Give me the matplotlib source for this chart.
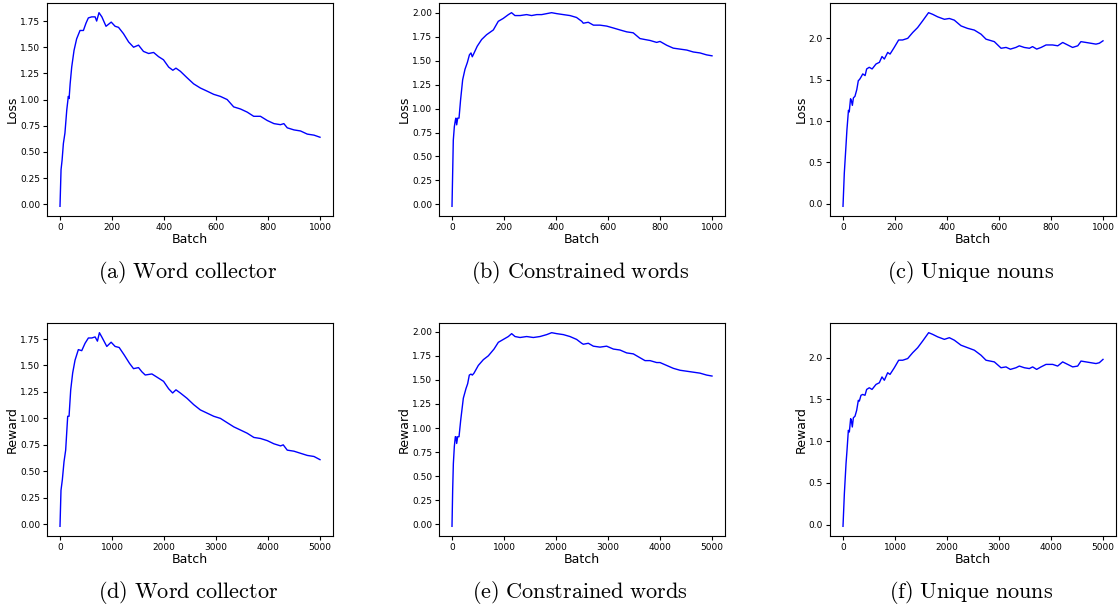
import numpy as np
import matplotlib.pyplot as plt

plt.rcParams['mathtext.fontset'] = 'cm'

# (a) Word collector - loss
a_x = [0, 4, 8, 13, 19, 26, 32, 35, 39, 45, 54, 64, 77, 90, 100, 109, 122, 135, 141, 150,
       161, 177, 197, 212, 225, 244, 264, 283, 302, 321, 341, 360, 379, 398, 418, 434, 446, 463,
       488, 514, 540, 566, 591, 617, 643, 668, 694, 720, 745, 771, 797, 823, 848, 861, 874, 900,
       925, 951, 977, 1000]
a_y = [-0.02, 0.33, 0.42, 0.58, 0.68, 0.90, 1.03, 1.01, 1.15, 1.31, 1.47, 1.58, 1.66, 1.66, 1.73,
       1.78, 1.79, 1.79, 1.75, 1.83, 1.79, 1.70, 1.74, 1.70, 1.69, 1.63, 1.55, 1.50, 1.52, 1.46,
       1.44, 1.45, 1.41, 1.38, 1.31, 1.28, 1.30, 1.27, 1.21, 1.15, 1.11, 1.08, 1.05, 1.03, 1.00,
       0.93, 0.91, 0.88, 0.84, 0.84, 0.80, 0.77, 0.76, 0.77, 0.73, 0.71, 0.70, 0.67, 0.66, 0.64]

# (b) Constrained words - loss
b_x = [0, 3, 5, 9, 13, 15, 18, 22, 27, 33, 41, 50, 59, 67, 73, 78, 85, 97, 114, 133, 159, 178,
       197, 217, 229, 242, 262, 287, 306, 326, 345, 364, 383, 403, 428, 454, 479, 499, 505, 524,
       544, 569, 595, 621, 646, 672, 697, 723, 742, 762, 787, 800, 826, 851, 877, 903, 928, 954,
       979, 1000]
b_y = [-0.02, 0.39, 0.67, 0.81, 0.88, 0.90, 0.83, 0.90, 0.90, 1.09, 1.30, 1.41, 1.48, 1.56, 1.58,
       1.54, 1.58, 1.65, 1.72, 1.77, 1.82, 1.91, 1.94, 1.98, 2.00, 1.97, 1.97, 1.98, 1.97, 1.98,
       1.98, 1.99, 2.00, 1.99, 1.98, 1.97, 1.95, 1.91, 1.89, 1.90, 1.87, 1.87, 1.86, 1.84, 1.82,
       1.80, 1.79, 1.73, 1.72, 1.71, 1.69, 1.70, 1.66, 1.63, 1.62, 1.61, 1.59, 1.58, 1.56, 1.55]

# (c) Unique nouns - loss
c_x = [0, 5, 12, 15, 21, 24, 29, 32, 36, 40, 46, 53, 59, 63, 69, 76, 85, 91, 101, 112, 127, 140,
       150, 159, 172, 181, 197, 214, 229, 249, 268, 287, 306, 329, 345, 364, 390, 409, 428, 454,
       479, 505, 531, 550, 582, 608, 627, 644, 665, 678, 697, 717, 729, 745, 762, 781, 806, 826,
       845, 864, 883, 903, 915, 935, 954, 973, 986, 1000]
c_y = [-0.03, 0.37, 0.73, 0.89, 1.13, 1.11, 1.27, 1.25, 1.19, 1.28, 1.30, 1.38, 1.49, 1.50, 1.53,
       1.57, 1.55, 1.63, 1.65, 1.63, 1.69, 1.71, 1.78, 1.75, 1.83, 1.81, 1.89, 1.98, 1.98, 2.00,
       2.07, 2.13, 2.21, 2.31, 2.29, 2.26, 2.23, 2.24, 2.22, 2.15, 2.12, 2.10, 2.05, 1.99, 1.96,
       1.88, 1.89, 1.87, 1.89, 1.91, 1.89, 1.88, 1.90, 1.87, 1.89, 1.92, 1.92, 1.91, 1.95, 1.92,
       1.89, 1.91, 1.96, 1.95, 1.94, 1.93, 1.94, 1.97]

# (d) Word collector - reward
d_x = [0, 19, 45, 77, 109, 148, 174, 206, 244, 289, 353, 418, 482, 546, 611, 675, 720, 758, 803,
       900, 983, 1060, 1138, 1234, 1337, 1414, 1510, 1575, 1639, 1767, 1864, 1992, 2089, 2166,
       2230, 2314, 2442, 2571, 2699, 2828, 2956, 3085, 3213, 3342, 3471, 3599, 3728, 3856, 3985,
       4113, 4242, 4293, 4370, 4499, 4627, 4756, 4884, 5000]
d_y = [-0.02, 0.32, 0.42, 0.59, 0.70, 1.02, 1.02, 1.27, 1.43, 1.55, 1.65, 1.64, 1.71, 1.76, 1.76,
       1.77, 1.73, 1.81, 1.77, 1.68, 1.72, 1.68, 1.67, 1.60, 1.52, 1.47, 1.48, 1.44, 1.41, 1.42,
       1.39, 1.35, 1.28, 1.24, 1.27, 1.24, 1.19, 1.13, 1.08, 1.05, 1.02, 1.00, 0.96, 0.92, 0.89,
       0.86, 0.82, 0.81, 0.79, 0.76, 0.74, 0.75, 0.70, 0.69, 0.67, 0.65, 0.64, 0.61]

# (e) Constrained words - reward
e_x = [0, 13, 26, 45, 64, 77, 90, 109, 135, 167, 218, 269, 301, 333, 365, 391, 423, 506, 603, 699,
       808, 891, 987, 1083, 1147, 1212, 1308, 1436, 1564, 1692, 1821, 1917, 2013, 2141, 2269,
       2397, 2494, 2526, 2622, 2718, 2846, 2974, 3103, 3231, 3359, 3487, 3615, 3712, 3808, 3936,
       4000, 4128, 4256, 4385, 4513, 4641, 4769, 4897, 5000]
e_y = [-0.02, 0.36, 0.63, 0.81, 0.91, 0.91, 0.84, 0.91, 0.91, 1.08, 1.31, 1.41, 1.46, 1.55, 1.56,
       1.55, 1.57, 1.65, 1.71, 1.75, 1.82, 1.89, 1.92, 1.95, 1.98, 1.95, 1.94, 1.95, 1.94, 1.95,
       1.97, 1.99, 1.98, 1.97, 1.95, 1.92, 1.88, 1.87, 1.88, 1.85, 1.84, 1.85, 1.82, 1.81, 1.78,
       1.77, 1.73, 1.70, 1.70, 1.68, 1.68, 1.65, 1.62, 1.60, 1.59, 1.58, 1.57, 1.55, 1.54]

# (f) Unique nouns - reward
f_x = [0, 26, 58, 77, 103, 122, 147, 160, 179, 199, 231, 263, 295, 314, 346, 378, 423, 455, 506,
       558, 635, 699, 750, 795, 859, 904, 987, 1071, 1148, 1244, 1340, 1436, 1532, 1647, 1724,
       1821, 1949, 2045, 2141, 2269, 2397, 2526, 2654, 2750, 2910, 3038, 3135, 3218, 3327, 3391,
       3487, 3583, 3647, 3724, 3808, 3904, 4032, 4128, 4224, 4321, 4417, 4513, 4577, 4673, 4769,
       4865, 4929, 5000]
f_y = [-0.02, 0.37, 0.73, 0.89, 1.13, 1.11, 1.27, 1.25, 1.17, 1.28, 1.30, 1.37, 1.49, 1.48, 1.55,
       1.56, 1.55, 1.62, 1.64, 1.62, 1.68, 1.70, 1.77, 1.73, 1.82, 1.80, 1.88, 1.97, 1.97, 1.99,
       2.06, 2.12, 2.20, 2.30, 2.28, 2.25, 2.22, 2.24, 2.21, 2.15, 2.12, 2.09, 2.03, 1.97, 1.95,
       1.88, 1.89, 1.86, 1.88, 1.90, 1.88, 1.87, 1.89, 1.86, 1.89, 1.92, 1.92, 1.90, 1.95, 1.92,
       1.89, 1.90, 1.96, 1.95, 1.94, 1.93, 1.94, 1.98]

panels = [
    (a_x, a_y, 'Loss', '(a) Word collector'),
    (b_x, b_y, 'Loss', '(b) Constrained words'),
    (c_x, c_y, 'Loss', '(c) Unique nouns'),
    (d_x, d_y, 'Reward', '(d) Word collector'),
    (e_x, e_y, 'Reward', '(e) Constrained words'),
    (f_x, f_y, 'Reward', '(f) Unique nouns'),
]

W, H = 1119, 611
fig = plt.figure(figsize=(W / 100, H / 100), dpi=100)

lefts = [47, 439, 830]
tops = [3, 323]
aw, ah = 286, 213

for i, (xs, ys, ylab, cap) in enumerate(panels):
    r, c = divmod(i, 3)
    l, t = lefts[c], tops[r]
    ax = fig.add_axes([l / W, (H - t - ah) / H, aw / W, ah / H])
    ax.plot(xs, ys, color='blue', lw=1)
    ax.set_xlabel('Batch', fontsize=9, labelpad=1)
    ax.set_ylabel(ylab, fontsize=9, labelpad=0.5)
    ax.tick_params(labelsize=6.5, length=3, pad=2)
    if c == 2:
        ax.set_yticks([0.0, 0.5, 1.0, 1.5, 2.0])
    # caption under each panel
    cx = l + aw / 2 - 2
    cy = t + ah + 57
    words = cap.replace(' ', r'\ ')
    fig.text(cx / W, 1 - cy / H, r'$\mathrm{' + words + '}$', fontsize=16,
             ha='center', va='center')

fig.savefig('out.png', dpi=100)
